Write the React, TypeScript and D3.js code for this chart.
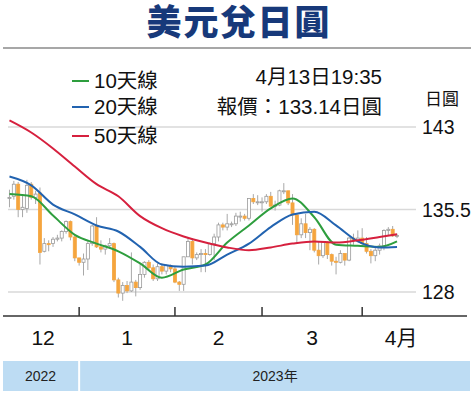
import React, { useEffect, useRef } from 'react'
import * as d3 from 'd3'

// trading days, 9 Dec 2022 -> 13 Apr 2023
const dates = [
  '12-09', '12-12', '12-13', '12-14', '12-15', '12-16', '12-19', '12-20', '12-21', '12-22',
  '12-23', '12-26', '12-27', '12-28', '12-29', '12-30', '01-02', '01-03', '01-04', '01-05',
  '01-06', '01-09', '01-10', '01-11', '01-12', '01-13', '01-16', '01-17', '01-18', '01-19',
  '01-20', '01-23', '01-24', '01-25', '01-26', '01-27', '01-30', '01-31', '02-01', '02-02',
  '02-03', '02-06', '02-07', '02-08', '02-09', '02-10', '02-13', '02-14', '02-15', '02-16',
  '02-17', '02-20', '02-21', '02-22', '02-23', '02-24', '02-27', '02-28', '03-01', '03-02',
  '03-03', '03-06', '03-07', '03-08', '03-09', '03-10', '03-13', '03-14', '03-15', '03-16',
  '03-17', '03-20', '03-21', '03-22', '03-23', '03-24', '03-27', '03-28', '03-29', '03-30',
  '03-31', '04-03', '04-04', '04-05', '04-06', '04-07', '04-10', '04-11', '04-12', '04-13',
]
const opens = [
  136.5, 136.7, 137.8, 135.5, 135.6, 137.8, 136.6, 137.0, 131.7, 132.4,
  132.4, 132.8, 132.9, 133.5, 134.4, 133.0, 131.1, 130.7, 131.0, 132.4,
  134.0, 132.1, 131.9, 132.2, 132.4, 129.1, 127.9, 128.6, 128.1, 128.9,
  128.4, 129.6, 130.7, 130.2, 129.2, 130.3, 129.9, 130.4, 130.1, 128.9,
  128.7, 131.2, 132.6, 131.1, 131.4, 131.5, 131.4, 132.4, 133.0, 134.1,
  133.9, 134.2, 134.2, 134.9, 134.9, 134.7, 136.5, 136.2, 136.2, 136.2,
  136.7, 135.8, 135.9, 137.2, 137.2, 136.1, 135.0, 133.2, 134.2, 133.4,
  133.7, 131.8, 131.3, 132.5, 131.4, 130.8, 130.7, 131.5, 130.9, 132.9,
  132.7, 132.9, 132.4, 131.7, 131.3, 131.8, 132.2, 133.6, 133.7, 133.1,
]
const highs = [
  137.3, 138.1, 138.0, 136.9, 138.2, 138.0, 137.2, 137.5, 132.9, 132.7,
  133.0, 133.2, 133.6, 134.5, 134.5, 133.1, 131.1, 131.5, 132.7, 134.1,
  134.8, 132.7, 132.3, 132.9, 132.5, 129.3, 128.9, 129.0, 131.6, 129.1,
  130.6, 130.8, 130.9, 130.5, 130.6, 130.6, 130.5, 130.5, 130.3, 129.0,
  131.2, 132.9, 132.9, 131.6, 131.9, 131.9, 132.5, 133.3, 134.3, 134.3,
  135.1, 134.4, 135.2, 135.3, 135.1, 136.5, 136.9, 136.8, 136.6, 136.9,
  137.1, 136.3, 137.3, 137.9, 137.2, 136.9, 135.1, 134.7, 135.1, 133.9,
  133.8, 132.6, 132.6, 132.6, 131.5, 131.2, 131.8, 131.5, 133.0, 133.3,
  133.6, 133.8, 133.0, 131.9, 132.0, 132.4, 133.7, 133.9, 134.0, 133.3,
]
const lows = [
  135.7, 136.4, 134.8, 134.8, 135.2, 136.4, 136.0, 130.5, 131.6, 131.7,
  132.1, 132.6, 132.6, 133.3, 132.7, 130.8, 130.4, 129.5, 130.0, 132.2,
  132.0, 131.6, 131.4, 131.9, 128.9, 127.5, 127.2, 127.9, 128.0, 127.6,
  128.2, 129.3, 130.0, 129.0, 129.0, 129.6, 129.6, 129.8, 128.8, 128.1,
  128.1, 131.2, 130.5, 130.9, 129.8, 129.8, 131.3, 130.9, 132.6, 133.6,
  133.6, 133.9, 134.0, 134.4, 134.5, 134.5, 136.0, 135.9, 135.3, 136.0,
  135.8, 135.4, 135.8, 136.9, 135.9, 134.1, 132.4, 132.9, 132.9, 131.8,
  131.6, 130.5, 131.1, 131.0, 130.4, 129.6, 130.6, 130.4, 130.8, 132.3,
  132.6, 132.2, 131.5, 130.6, 130.8, 131.4, 131.8, 133.1, 133.0, 132.9,
]
const closes = [
  136.6, 137.8, 135.5, 135.7, 137.7, 136.6, 136.9, 131.6, 132.4, 132.3,
  132.8, 132.9, 133.5, 134.4, 133.0, 131.1, 130.7, 131.0, 132.4, 134.0,
  132.1, 131.9, 132.2, 132.4, 129.1, 127.9, 128.6, 128.1, 128.9, 128.4,
  129.6, 130.7, 130.2, 129.2, 130.3, 129.9, 130.4, 130.1, 128.9, 128.7,
  131.2, 132.6, 131.1, 131.4, 131.5, 131.4, 132.4, 133.0, 134.1, 133.9,
  134.2, 134.2, 134.9, 134.9, 134.7, 136.5, 136.2, 136.2, 136.2, 136.7,
  135.8, 135.9, 137.2, 137.2, 136.1, 135.0, 133.2, 134.2, 133.4, 133.7,
  131.8, 131.3, 132.5, 131.4, 130.8, 130.7, 131.5, 130.9, 132.9, 132.7,
  132.9, 132.4, 131.7, 131.3, 131.8, 132.2, 133.6, 133.7, 133.1, 133.14,
]

// moving averages, one value per week
const maDates = [
  '12-09', '12-16', '12-23', '12-30', '01-06', '01-13', '01-20', '01-27', '02-03', '02-10',
  '02-17', '02-24', '03-03', '03-10', '03-17', '03-24', '03-31', '04-07', '04-13',
]
const ma10 = [
  136.9, 136.7, 134.95, 133.2, 132.4, 131.7, 130.6, 129.3, 130.05, 130.5,
  132.5, 134.05, 135.6, 136.5, 134.8, 132.3, 132.2, 132.1, 132.6,
]
const ma20 = [
  138.5, 137.7, 135.95, 135.05, 134.05, 133.5, 132.1, 130.5, 130.3, 130.4,
  131.4, 132.4, 133.9, 135.05, 135.3, 134.05, 132.6, 132.05, 132.1,
]
const ma50 = [
  143.6, 142.5, 141.05, 139.4, 137.8, 136.7, 134.9, 133.8, 133.05, 132.5,
  132.05, 131.8, 132.05, 132.4, 132.6, 132.5, 132.7, 133.0, 133.25,
]

const yTicks = [128, 135.5, 143]
const monthStarts = ['01-02', '02-01', '03-01', '04-03']
const monthLabels = ['12', '1', '2', '3', '4月']
const years = ['2022', '2023年']
const legend = ['10天線', '20天線', '50天線']
const legendColors = ['#2e9e3e', '#2263b0', '#d6203e']

const FONT = "'Liberation Sans', Arial, 'Noto Sans CJK TC', sans-serif"

const App = () => {
  const ref = useRef(null)

  useEffect(() => {
    const svg = d3.select(ref.current)
    svg.selectAll('*').remove()

    const W = 474
    const H = 396

    const x = d3.scaleBand().domain(dates).range([7.3, 399.2]).paddingInner(0.3).paddingOuter(0.15)
    const cx = (d) => x(d) + x.bandwidth() / 2
    const y = d3.scaleLinear().domain([128, 143]).range([292, 127])

    svg.append('rect').attr('width', W).attr('height', H).attr('fill', '#fff')

    // title
    svg
      .append('text')
      .attr('x', 239)
      .attr('y', 35)
      .attr('text-anchor', 'middle')
      .attr('font-family', "'Noto Sans CJK TC', sans-serif")
      .attr('font-weight', 900)
      .attr('font-size', 35)
      .attr('letter-spacing', 2)
      .attr('fill', '#17397a')
      .text('美元兌日圓')

    svg.append('line').attr('x1', 3).attr('x2', 471).attr('y1', 48).attr('y2', 48)
      .attr('stroke', '#8a8a8a').attr('stroke-width', 1.5)

    // grid
    svg
      .selectAll('.grid')
      .data(yTicks)
      .enter()
      .append('line')
      .attr('x1', 8)
      .attr('x2', 416)
      .attr('y1', (d) => y(d))
      .attr('y2', (d) => y(d))
      .attr('stroke', '#d9d9d9')
      .attr('stroke-width', 1.5)

    svg
      .selectAll('.ylab')
      .data(yTicks)
      .enter()
      .append('text')
      .attr('x', 422)
      .attr('y', (d) => y(d) + 7)
      .attr('font-family', FONT)
      .attr('font-size', 19.5)
      .attr('fill', '#111')
      .text((d) => d)

    svg.append('text').attr('x', 425).attr('y', 105).attr('font-family', FONT)
      .attr('font-size', 17).attr('fill', '#111').text('日圓')

    // candles
    const idx = d3.range(dates.length)
    const g = svg.append('g')
    g.selectAll('.wick')
      .data(idx)
      .enter()
      .append('line')
      .attr('x1', (i) => cx(dates[i]))
      .attr('x2', (i) => cx(dates[i]))
      .attr('y1', (i) => y(highs[i]))
      .attr('y2', (i) => y(lows[i]))
      .attr('stroke', '#a8a8a8')
      .attr('stroke-width', 1)
    g.selectAll('.body')
      .data(idx)
      .enter()
      .append('rect')
      .attr('x', (i) => x(dates[i]))
      .attr('width', x.bandwidth())
      .attr('y', (i) => y(Math.max(opens[i], closes[i])))
      .attr('height', (i) => Math.max(1, Math.abs(y(opens[i]) - y(closes[i]))))
      .attr('fill', (i) => (closes[i] < opens[i] ? '#f5a53e' : '#fff'))
      .attr('stroke', (i) => (closes[i] < opens[i] ? '#f5a53e' : '#9a9a9a'))
      .attr('stroke-width', 0.8)

    // moving averages
    const line = d3
      .line()
      .curve(d3.curveMonotoneX)
      .x((d) => cx(d[0]))
      .y((d) => y(d[1]))
    ;[ma10, ma20, ma50].forEach((ma, k) => {
      svg
        .append('path')
        .datum(maDates.map((d, i) => [d, ma[i]]))
        .attr('d', line)
        .attr('fill', 'none')
        .attr('stroke', legendColors[k])
        .attr('stroke-width', 2)
        .attr('stroke-linejoin', 'round')
    })

    // legend
    const lg = svg.append('g')
    legend.forEach((t, k) => {
      const ly = [81, 107, 136][k]
      lg.append('line').attr('x1', 72).attr('x2', 89).attr('y1', ly).attr('y2', ly)
        .attr('stroke', legendColors[k]).attr('stroke-width', 2)
      lg.append('text').attr('x', 94).attr('y', ly + 7).attr('font-family', FONT)
        .attr('font-size', 20.5).attr('fill', '#111').text(t)
    })

    svg.append('text').attr('x', 382).attr('y', 84).attr('text-anchor', 'end')
      .attr('font-family', FONT).attr('font-size', 20.5).attr('fill', '#111').text('4月13日19:35')
    svg.append('text').attr('x', 382).attr('y', 114).attr('text-anchor', 'end')
      .attr('font-family', FONT).attr('font-size', 20.5).attr('fill', '#111').text('報價：133.14日圓')

    // x axis
    svg.append('line').attr('x1', 3).attr('x2', 467).attr('y1', 316).attr('y2', 316)
      .attr('stroke', '#333').attr('stroke-width', 1.5)
    svg
      .selectAll('.tick')
      .data(monthStarts)
      .enter()
      .append('line')
      .attr('x1', (d) => cx(d))
      .attr('x2', (d) => cx(d))
      .attr('y1', 307)
      .attr('y2', 316)
      .attr('stroke', '#333')
      .attr('stroke-width', 1.5)

    const bounds = [7, ...monthStarts.map(cx), 440]
    svg
      .selectAll('.mlab')
      .data(monthLabels)
      .enter()
      .append('text')
      .attr('x', (d, i) => (bounds[i] + bounds[i + 1]) / 2)
      .attr('y', 345)
      .attr('text-anchor', 'middle')
      .attr('font-family', FONT)
      .attr('font-size', 21)
      .attr('fill', '#111')
      .text((d) => d)

    // year band
    const yb = [[3, cx(monthStarts[0]) - 1], [cx(monthStarts[0]) + 1, 470]]
    years.forEach((t, k) => {
      svg.append('rect').attr('x', yb[k][0]).attr('y', 361).attr('width', yb[k][1] - yb[k][0])
        .attr('height', 30).attr('fill', '#bddcf3')
      svg.append('text').attr('x', (yb[k][0] + yb[k][1]) / 2).attr('y', 381)
        .attr('text-anchor', 'middle').attr('font-family', FONT).attr('font-size', 14)
        .attr('fill', '#222').text(t)
    })
  }, [])

  return <svg ref={ref} width={474} height={396} style={{ position: 'absolute', left: 0, top: 0 }} />
}

export default App
